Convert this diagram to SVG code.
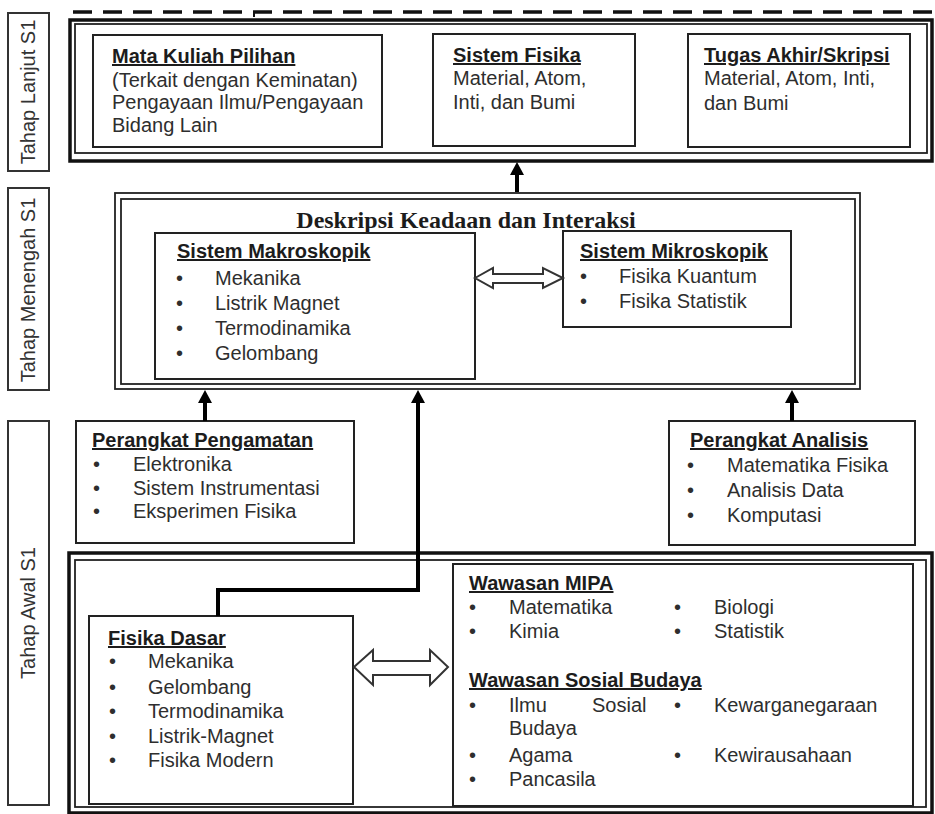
<svg xmlns="http://www.w3.org/2000/svg" width="935" height="814" viewBox="0 0 935 814">
<style>
  text { font-family: "Liberation Sans", Arial, sans-serif; font-size: 20px; fill: #2e2e2e; }
  .t { font-weight: bold; fill: #1c1c1c; text-decoration: underline; }
  .lbl { font-size: 20px; fill: #333; }
  .ser { font-family: "Liberation Serif", "Times New Roman", serif; font-size: 24px; font-weight: bold; fill: #1c1c1c; }
  .box { fill: #fff; stroke: #222; stroke-width: 2; }
  .lab { fill: #fff; stroke: #333; stroke-width: 2; }
  .thick { fill: none; stroke: #111; stroke-width: 3.5; }
  .thin { fill: none; stroke: #222; stroke-width: 1.8; }
  .conn { fill: none; stroke: #000; stroke-width: 4; }
  .head { fill: #000; }
  .hollow { fill: #fff; stroke: #333; stroke-width: 2; stroke-linejoin: miter; }
</style>
<rect width="935" height="814" fill="#fff"/>

<!-- top dashed line -->
<g id="dashline">
  <line x1="73" y1="12" x2="935" y2="12" stroke="#111" stroke-width="3.5" stroke-dasharray="19 11"/>
  <line x1="254" y1="11" x2="254" y2="17" stroke="#111" stroke-width="2"/>
</g>

<!-- stage labels -->
<g id="label-lanjut">
  <rect class="lab" x="8" y="13" width="41" height="158"/>
  <text class="lbl" transform="translate(35,92) rotate(-90)" text-anchor="middle">Tahap Lanjut S1</text>
</g>
<g id="label-menengah">
  <rect class="lab" x="8" y="188" width="41" height="202"/>
  <text class="lbl" transform="translate(35,290) rotate(-90)" text-anchor="middle">Tahap Menengah S1</text>
</g>
<g id="label-awal">
  <rect class="lab" x="8" y="421" width="41" height="384"/>
  <text class="lbl" transform="translate(35,613) rotate(-90)" text-anchor="middle">Tahap Awal S1</text>
</g>

<!-- Tahap Lanjut frame -->
<g id="frame-lanjut">
  <rect class="thick" x="70" y="20" width="862" height="141"/>
  <rect class="thin" x="75" y="24" width="852" height="129"/>
</g>
<g id="mata-kuliah-pilihan">
  <rect class="box" x="93" y="35" width="289" height="112"/>
  <text class="t" x="112" y="63">Mata Kuliah Pilihan</text>
  <text x="112" y="87">(Terkait dengan Keminatan)</text>
  <text x="112" y="109">Pengayaan Ilmu/Pengayaan</text>
  <text x="112" y="132">Bidang Lain</text>
</g>
<g id="sistem-fisika">
  <rect class="box" x="433" y="34" width="202" height="112"/>
  <text class="t" x="453" y="62">Sistem Fisika</text>
  <text x="453" y="85">Material, Atom,</text>
  <text x="453" y="109">Inti, dan Bumi</text>
</g>
<g id="tugas-akhir">
  <rect class="box" x="688" y="34" width="222" height="113"/>
  <text class="t" x="704" y="62">Tugas Akhir/Skripsi</text>
  <text x="704" y="85">Material, Atom, Inti,</text>
  <text x="704" y="110">dan Bumi</text>
</g>

<!-- Tahap Menengah frame -->
<g id="frame-menengah">
  <rect class="thin" x="115" y="193" width="745" height="196" stroke-width="2"/>
  <rect class="thin" x="121" y="199" width="734" height="185" stroke-width="2.5"/>
  <text class="ser" x="466" y="228" text-anchor="middle">Deskripsi Keadaan dan Interaksi</text>
</g>
<g id="sistem-makroskopik">
  <rect class="box" x="155" y="233" width="320" height="146"/>
  <text class="t" x="177" y="258">Sistem Makroskopik</text>
  <text x="176" y="285">•</text><text x="215" y="285">Mekanika</text>
  <text x="176" y="310">•</text><text x="215" y="310">Listrik Magnet</text>
  <text x="176" y="335">•</text><text x="215" y="335">Termodinamika</text>
  <text x="176" y="360">•</text><text x="215" y="360">Gelombang</text>
</g>
<g id="sistem-mikroskopik">
  <rect class="box" x="563" y="231" width="228" height="96"/>
  <text class="t" x="580" y="258">Sistem Mikroskopik</text>
  <text x="580" y="283">•</text><text x="619" y="283">Fisika Kuantum</text>
  <text x="580" y="308">•</text><text x="619" y="308">Fisika Statistik</text>
</g>

<!-- Tahap Awal: perangkat -->
<g id="perangkat-pengamatan">
  <rect class="box" x="76" y="421" width="278" height="122"/>
  <text class="t" x="92" y="447">Perangkat Pengamatan</text>
  <text x="93" y="471">•</text><text x="133" y="471">Elektronika</text>
  <text x="93" y="495">•</text><text x="133" y="495">Sistem Instrumentasi</text>
  <text x="93" y="518">•</text><text x="133" y="518">Eksperimen Fisika</text>
</g>
<g id="perangkat-analisis">
  <rect class="box" x="669" y="421" width="246" height="124"/>
  <text class="t" x="690" y="447">Perangkat Analisis</text>
  <text x="687" y="472">•</text><text x="727" y="472">Matematika Fisika</text>
  <text x="687" y="497">•</text><text x="727" y="497">Analisis Data</text>
  <text x="687" y="522">•</text><text x="727" y="522">Komputasi</text>
</g>

<!-- Tahap Awal frame -->
<g id="frame-awal">
  <rect class="thick" x="69" y="553" width="863" height="260"/>
  <rect class="thin" x="75" y="560" width="851" height="247"/>
</g>
<g id="fisika-dasar">
  <rect class="box" x="89" y="616" width="264" height="188"/>
  <text class="t" x="108" y="645">Fisika Dasar</text>
  <text x="109" y="668">•</text><text x="148" y="668">Mekanika</text>
  <text x="109" y="694">•</text><text x="148" y="694">Gelombang</text>
  <text x="109" y="718">•</text><text x="148" y="718">Termodinamika</text>
  <text x="109" y="743">•</text><text x="148" y="743">Listrik-Magnet</text>
  <text x="109" y="767">•</text><text x="148" y="767">Fisika Modern</text>
</g>
<g id="wawasan">
  <rect class="box" x="453" y="564" width="460" height="242"/>
  <text class="t" x="469" y="590">Wawasan MIPA</text>
  <text x="469" y="614">•</text><text x="509" y="614">Matematika</text>
  <text x="674" y="614">•</text><text x="714" y="614">Biologi</text>
  <text x="469" y="638">•</text><text x="509" y="638">Kimia</text>
  <text x="674" y="638">•</text><text x="714" y="638">Statistik</text>
  <text class="t" x="469" y="687">Wawasan Sosial Budaya</text>
  <text x="469" y="712">•</text><text x="509" y="712">Ilmu</text><text x="592" y="712">Sosial</text>
  <text x="674" y="712">•</text><text x="714" y="712">Kewarganegaraan</text>
  <text x="509" y="735">Budaya</text>
  <text x="469" y="762">•</text><text x="509" y="762">Agama</text>
  <text x="674" y="762">•</text><text x="714" y="762">Kewirausahaan</text>
  <text x="469" y="786">•</text><text x="509" y="786">Pancasila</text>
</g>

<!-- connectors -->
<g id="connectors">
  <line class="conn" x1="517" y1="192" x2="517" y2="172"/>
  <polygon class="head" points="517,162 524,175 510,175"/>

  <line class="conn" x1="205" y1="421" x2="205" y2="400"/>
  <polygon class="head" points="205,390 212,403 198,403"/>

  <polyline class="conn" points="218,616 218,590 418,590 418,400"/>
  <polygon class="head" points="418,390 425,403 411,403"/>

  <line class="conn" x1="792" y1="421" x2="792" y2="400"/>
  <polygon class="head" points="792,390 799,403 785,403"/>

  <polygon class="hollow" points="475,278 493,268 493,274 543,274 543,268 563,278 543,288 543,283 493,283 493,288"/>
  <polygon class="hollow" points="354,667 373,650 373,661 430,661 430,650 448,667 430,685 430,675 373,675 373,685"/>
</g>
</svg>
